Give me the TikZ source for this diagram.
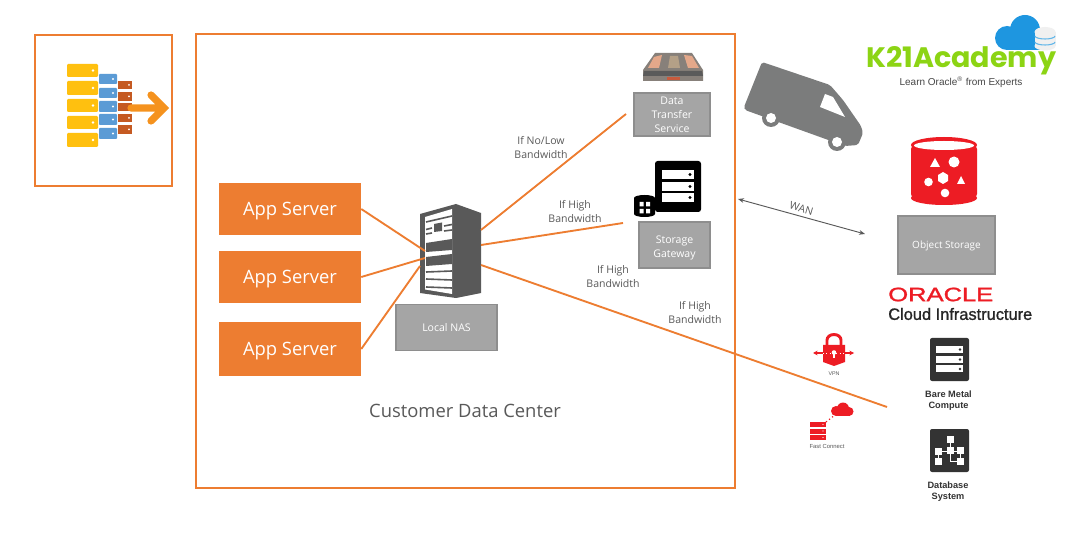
\documentclass[tikz,border=0pt]{standalone}
\usepackage{fontspec}
\setmainfont{Open Sans}
\newfontfamily\arialf{Liberation Sans}
\newfontfamily\arialmed[FakeBold=1.2]{Liberation Sans}
\newfontfamily\logof{Poppins}[BoldFont=Poppins Bold]
\usetikzlibrary{arrows.meta}
\definecolor{korange}{HTML}{ED7D31}
\definecolor{boxgray}{HTML}{A5A5A5}
\definecolor{boxedge}{HTML}{8E8E8E}
\definecolor{txtgray}{HTML}{595959}
\definecolor{oraclered}{HTML}{ED1C24}
\definecolor{srv}{HTML}{595959}
\definecolor{icondark}{HTML}{333333}
\definecolor{kgreen}{HTML}{8CD414}
\definecolor{kblue}{HTML}{1E96E0}
\definecolor{van}{HTML}{7B7C7C}
\newlength{\un}\setlength{\un}{0.75pt}
% extra blank above the text: the text sits #1 px lower in the centred node
\newcommand{\dropped}[2]{\vbox{\vskip #1\un\vskip #1\un\hbox{\begin{tabular}{@{}c@{}}#2\end{tabular}}}}
\tikzset{
  frame/.style={draw=korange,line width=1.2pt,fill=none},
  appbox/.style={fill=korange,text=white,inner sep=0pt,font=\fontsize{13.8pt}{17pt}\selectfont},
  graybox/.style={fill=boxgray,draw=boxedge,line width=1pt,text=white,inner sep=0pt,align=center,font=\fontsize{7.9pt}{10.5pt}\selectfont},
  lab/.style={text=txtgray,align=center,inner sep=0pt,font=\fontsize{7.9pt}{10.5pt}\selectfont},
  link/.style={draw=korange,line width=1.4pt},
  iconlab/.style={inner sep=0pt,align=center,text=icondark,font=\arialf\bfseries\fontsize{6.9pt}{8.2pt}\selectfont},
  tinylab/.style={inner sep=0pt,text=txtgray,font=\arialf\fontsize{4.4pt}{5pt}\selectfont},
}
\begin{document}
\begin{tikzpicture}[x=\un,y=-\un]
\useasboundingbox (0,0) rectangle (1082,538);
\fill[white] (0,0) rectangle (1082,538);

% frames
\node[frame,minimum width=137\un,minimum height=151\un,inner sep=0pt] (src) at (103.5,110.5) {};
\node[frame,minimum width=539\un,minimum height=454\un,inner sep=0pt] (dc) at (465.5,261) {};

% left icon
\foreach \a/\b in {64/77,81/95,99/112,116/129,133/147}{
  \fill[color={rgb,255:red,255;green,192;blue,15},rounded corners=0.8pt] (67,\a) rectangle (98,\b);
  \fill[white] (93,{(\a+\b)/2}) circle [radius=1.3];
}
\foreach \a/\b in {74/84,88/98,101/112,114/125,128/139}{
  \fill[color={rgb,255:red,91;green,155;blue,213},rounded corners=0.6pt] (99,\a) rectangle (117,\b);
  \fill[white] (113,{(\a+\b)/2}) circle [radius=1.1];
}
\foreach \a/\b in {81/89,92/101,103/111,114/122,125/134}{
  \fill[color={rgb,255:red,197;green,90;blue,34}] (118,\a) rectangle (132,\b);
  \fill[white] (129,{(\a+\b)/2}) circle [radius=1];
}
\draw[color={rgb,255:red,245;green,146;blue,30},line width=5.4pt,line cap=round,line join=miter]
  (131,108) -- (164,108) (151,95) -- (164,108) -- (151,121);

% app servers
\node[appbox,minimum width=142\un,minimum height=52\un] (app1) at (290,209) {\dropped{2}{App Server}};
\node[appbox,minimum width=142\un,minimum height=52\un] (app2) at (290,277) {\dropped{2}{App Server}};
\node[appbox,minimum width=142\un,minimum height=54\un] (app3) at (290,349) {\dropped{2}{App Server}};

% server tower
\fill[srv] (420,214) -- (456,204) -- (481,213) -- (481,293) -- (456,298) -- (420,293) -- cycle;
\fill[white] (425,217) -- (452,209) -- (452,294) -- (425,289.5) -- cycle;
\draw[srv,line width=1.2pt] (426,222) -- (452,216);
\fill[srv] (434,224) -- (442,222.5) -- (442,231) -- (434,232) -- cycle;
\draw[srv,line width=1.2pt] (426,229.5) -- (432,228) (444,226) -- (452,224.5) (426,234) -- (432,233) (444,231) -- (452,230);
\fill[srv] (426,243) -- (452,239) -- (452,250) -- (426,252) -- cycle;
\fill[srv] (426,257) -- (452,254) -- (452,264) -- (426,266) -- cycle;
\draw[srv,line width=1.2pt] (426,272) -- (452,271) (426,279) -- (452,280) (426,287) -- (452,288);
\coordinate (srvA) at (425,251);
\coordinate (srvB) at (425,258);
\coordinate (srvC) at (420,266);
\coordinate (srvD) at (481,230);
\coordinate (srvE) at (481,245);
\coordinate (srvF) at (481,265);

% Local NAS
\node[graybox,minimum width=101\un,minimum height=46\un] (nas) at (446.5,327.5) {Local NAS};

% DTS
\node[graybox,minimum width=76\un,minimum height=43\un] (dts) at (672,114.5) {\smash{\raisebox{-3.4\un}{\begin{tabular}{@{}c@{}}Data\\Transfer\\Service\end{tabular}}}};
\fill[color={rgb,255:red,135;green,128;blue,122}] (655,53) -- (692,53) -- (703,70) -- (703,81) -- (643,81) -- (643,70) -- cycle;
\fill[color={rgb,255:red,90;green,90;blue,90}] (644,71) -- (702,71) -- (703,76) -- (643,76) -- cycle;
\fill[color={rgb,255:red,228;green,168;blue,138}] (654,57) -- (662,55) -- (659,68) -- (648,68) -- cycle (684,55) -- (692,56) -- (699,68) -- (688,68) -- cycle;
\fill[color={rgb,255:red,180;green,160;blue,135}] (670,56) -- (678,56) -- (680,68) -- (668,68) -- cycle;
\fill[color={rgb,255:red,200;green,90;blue,60}] (667,77) rectangle (680,80);
\coordinate (dtsIn) at (626,114);

% Storage gateway
\node[graybox,minimum width=71\un,minimum height=46\un] (sgw) at (674.5,245) {\dropped{3}{Storage\\Gateway}};
\fill[black,rounded corners=2pt] (655,161) rectangle (701,212);
\foreach \a in {170,182,193}{
  \fill[white] (662,\a) rectangle (694,\a+9);
  \fill[black] (690,\a+4.5) circle [radius=1.6];
}
\fill[black] (634,198) -- (634,214) arc[start angle=180,end angle=360,x radius=10.5,y radius=-3] -- (655,198) -- cycle;
\fill[black] (644.5,198) ellipse [x radius=10.5,y radius=3];
\fill[white] (639.5,202) rectangle (643.5,206.5) (646,202) rectangle (650,206.5) (639.5,209) rectangle (643.5,213.5) (646,209) rectangle (650,213.5);
\coordinate (sgwIn) at (623,223);

% van
\fill[van,rounded corners=1.5pt] (762,62) -- (830,85) -- (843,100) -- (861,126) -- (863,133) -- (858,145) -- (845,146) -- (745,110) -- (744,107) -- cycle;
\fill[van] (771,118) circle [radius=9] (837,142) circle [radius=9];
\fill[white] (771,118) circle [radius=5] (837,142) circle [radius=5];
\fill[white] (825,94) -- (833,97) -- (845,117) -- (820,107) -- cycle;

% links
\draw[link] (app1.east) -- (srvA);
\draw[link] (app2.east) -- (srvB);
\draw[link] (app3.east) -- (srvC);
\draw[link] (srvD) -- (dtsIn);
\draw[link] (srvE) -- (sgwIn);
\coordinate (bmIn) at (887,407);
\draw[link] (srvF) -- (bmIn);

% labels
\node[lab] (l1) at (541,147.5) {If No/Low\\Bandwidth};
\node[lab] (l2) at (575,212) {If High\\Bandwidth};
\node[lab] (l3) at (613,276.5) {If High\\Bandwidth};
\node[lab] (l4) at (695,312.5) {If High\\Bandwidth};
\node[text=txtgray,inner sep=0pt,font=\fontsize{13.8pt}{16pt}\selectfont] (cdc) at (465,411) {Customer Data Center};

% WAN
\coordinate (wanL) at (738,199);
\coordinate (wanR) at (865,234);
\draw[{Stealth[length=4.5pt,width=3.5pt]}-{Stealth[length=4.5pt,width=3.5pt]},color=txtgray,line width=0.7pt] (wanL) -- (wanR);
\node[lab,rotate=-16] (wan) at (801.5,208.5) {WAN};

% Object storage
\fill[oraclered,rounded corners=3pt] (911,145) -- (977,145) -- (977,198) -- (944,204) -- (911,198) -- cycle;
\fill[oraclered] (944,145) ellipse [x radius=33,y radius=8];
\fill[oraclered] (944,198) ellipse [x radius=33,y radius=7];
\fill[white] (944,145.5) ellipse [x radius=30,y radius=4.5];
\fill[white] (935,158) -- (940,167) -- (930,167) -- cycle;
\fill[white] (954,162) circle [radius=5.5];
\fill[white] (928.5,182) circle [radius=4.3];
\fill[white] (943,172) -- (948,175) -- (948,181) -- (943,184) -- (938,181) -- (938,175) -- cycle;
\fill[white] (961,176) -- (965,184) -- (957,184) -- cycle;
\fill[white] (945,193) circle [radius=4.3];
\node[graybox,minimum width=97\un,minimum height=58\un,font=\fontsize{7.5pt}{9pt}\selectfont] (obj) at (946.5,245) {\dropped{1}{Object Storage}};

% Oracle wordmark
\node[inner sep=0pt,text=oraclered,anchor=west] (orc) at (888,294.5) {\resizebox{105\un}{13.5\un}{\arialmed ORACLE}};
\node[inner sep=0pt,text=black!85,anchor=west,font=\fontsize{11pt}{13pt}\selectfont\arialmed] (oci) at (888,314) {\resizebox{144\un}{!}{Cloud Infrastructure}};

% Bare metal
\fill[icondark,rounded corners=1.5pt] (930,338) rectangle (969,381);
\foreach \a in {346,356,365.5}{
  \fill[white] (936,\a) rectangle (963,\a+7);
  \fill[icondark] (960,\a+3.5) circle [radius=1.3];
}
\node[iconlab] (bm) at (948.5,401) {Bare Metal\\Compute};

% Database
\fill[icondark,rounded corners=1.5pt] (930,429) rectangle (969,472);
\draw[white,line width=0.6pt] (950,440) -- (950,455) (938.5,451) -- (960.5,451) (938.5,451) -- (938.5,461) (960.5,451) -- (960.5,461) (950,455) -- (950,461.5) -- (957,461.5);
\foreach \p/\q in {946.5/436,946.5/447,935/448,957/447,935/458,957/458}{
  \fill[white] (\p,\q) rectangle (\p+7.3,\q+7.3);
}
\node[iconlab] (db) at (948,492) {Database\\System};

% VPN
\fill[oraclered] (823,345) -- (845,345) -- (845,362) -- (834,366) -- (823,362) -- cycle;
\draw[oraclered,line width=2.2pt] (827,346) -- (827,340) arc[start angle=180,end angle=0,x radius=7,y radius=-5.5] -- (841,346);
\draw[{Stealth[length=3.5pt,width=3.5pt]}-{Stealth[length=3.5pt,width=3.5pt]},oraclered,line width=0.8pt] (813,353) -- (854,353);
\draw[white,line width=0.5pt,dotted] (823,353) -- (845,353);
\fill[white] (834,352.5) circle [radius=2.3];
\fill[white] (833,353) rectangle (835,358.5);
\node[tinylab,font=\arialf\fontsize{4pt}{5pt}\selectfont] (vpn) at (834,374) {VPN};

% Fast connect
\fill[oraclered] (836,411) circle [radius=5] (843,408.5) circle [radius=6] (849,411.5) circle [radius=4.5];
\fill[oraclered] (836,411) rectangle (850,416);
\draw[oraclered,line width=0.9pt,dotted] (826,422) -- (835,415);
\foreach \a in {422,428.5,435}{
  \fill[oraclered] (810,\a) rectangle (825.5,\a+5);
  \fill[white] (823,\a+2.5) circle [radius=0.7];
}
\node[tinylab] (fc) at (827,446) {Fast Connect};

% logo
\fill[kblue] (1007,38) circle [radius=12] (1025,30) circle [radius=15] (1038,38) circle [radius=10];
\fill[kblue] (1007,40) rectangle (1045,50);
\fill[color=gray!12] (1045,32) ellipse [x radius=10.5,y radius=5];
\fill[color=gray!12] (1034.5,32) rectangle (1055.5,46);
\fill[color=gray!12] (1045,46) ellipse [x radius=10.5,y radius=4.5];
\draw[kblue!70,line width=0.8pt] (1035,36) arc[start angle=180,end angle=360,x radius=10,y radius=-3];
\draw[kblue!70,line width=0.8pt] (1035,42) arc[start angle=180,end angle=360,x radius=10,y radius=-3];
\node[inner sep=0pt,text=kgreen,anchor=base west,font=\logof\bfseries\fontsize{24pt}{26pt}\selectfont] (klogo) at (866,68) {\resizebox{190\un}{21\un}{K21Academy}};
\node[inner sep=0pt,text=txtgray!80!black,font=\arialf\fontsize{7.5pt}{8.5pt}\selectfont] (ktag) at (961,82) {Learn Oracle\textsuperscript{\tiny\textregistered} from Experts};
\end{tikzpicture}
\end{document}
